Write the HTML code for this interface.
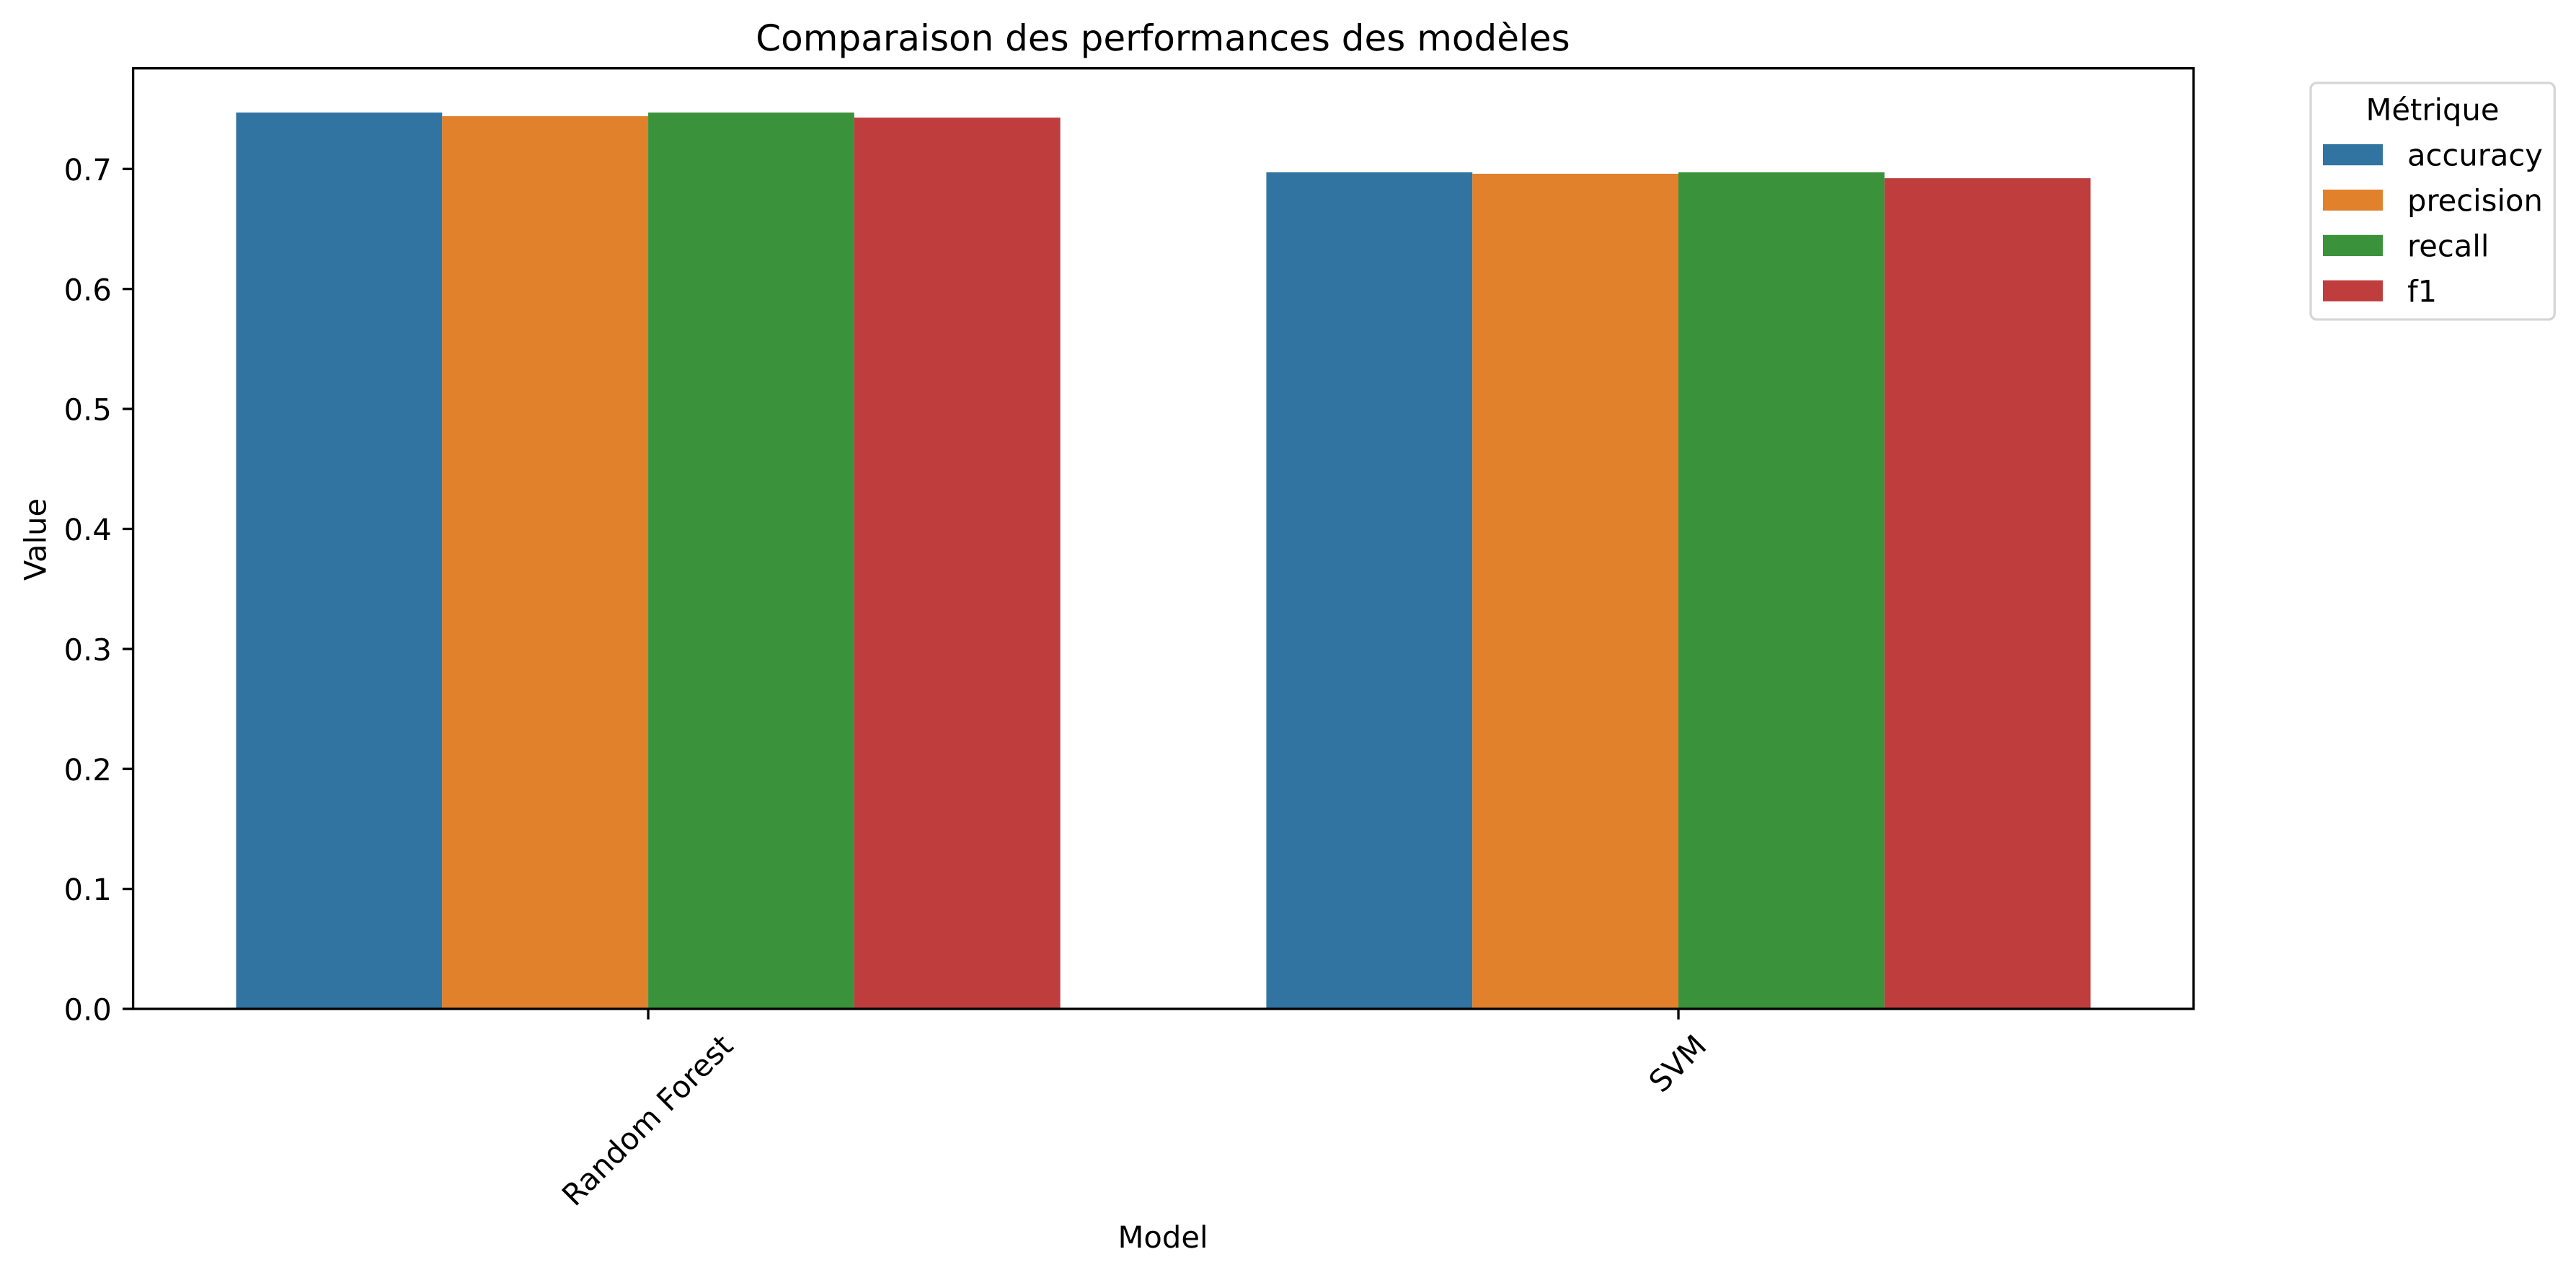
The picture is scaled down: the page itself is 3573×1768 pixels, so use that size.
<!DOCTYPE html>
<html lang="fr">
<head>
<meta charset="utf-8">
<title>Comparaison des performances des modèles</title>
<style>
html,body{margin:0;padding:0;background:#fff;width:3573px;height:1768px;overflow:hidden}
svg{position:absolute;left:0;top:0;display:block}
text{font-family:"DejaVu Sans","Liberation Sans",sans-serif;fill:#000;text-rendering:geometricPrecision}
</style>
</head>
<body>
<svg id="chart" xmlns="http://www.w3.org/2000/svg" width="3573" height="1768" viewBox="0 0 3573 1768">
  <rect x="0" y="0" width="3573" height="1768" fill="#ffffff"/>
  <g id="bars"></g>
  <g id="ticks"></g>
  <rect x="184.6" y="94.7" width="2857.9" height="1304.3" fill="none" stroke="#000" stroke-width="3.33"/>
  <text x="1613" y="70" font-size="50" text-anchor="middle">Comparaison des performances des modèles</text>
  <text x="1613" y="1730" font-size="41.67" text-anchor="middle">Model</text>
  <text transform="translate(63.3 748) rotate(-90)" font-size="41.67" text-anchor="middle">Value</text>
  <g id="legend">
    <rect x="3205" y="115" width="338.3" height="328" rx="8.3" ry="8.3" fill="#fff" stroke="#d6d6d6" stroke-width="3.33"/>
    <text x="3374" y="166.5" font-size="41.67" text-anchor="middle">Métrique</text>
  </g>
</svg>
<script>
const categories = ["Random Forest", "SVM"];
const metrics = ["accuracy", "precision", "recall", "f1"];
const accuracyValues = [0.747, 0.6972];
const precisionValues = [0.744, 0.696];
const recallValues = [0.747, 0.6972];
const f1Values = [0.7428, 0.6923];
const yTickLabels = ["0.0", "0.1", "0.2", "0.3", "0.4", "0.5", "0.6", "0.7"];

const seriesValues = [accuracyValues, precisionValues, recallValues, f1Values];
const seriesColors = ["#3274a1", "#e1812c", "#3a923a", "#c03d3e"];
const NS = "http://www.w3.org/2000/svg";
const plotLeft = 184.6, plotRight = 3042.5, plotTop = 94.7, plotBottom = 1399;
const yMax = 0.7839;
const tickLen = 14.6, tickPad = 14.6, fontSize = 41.67;

function xScale(pos) {
  return plotLeft + (pos + 0.5) / categories.length * (plotRight - plotLeft);
}
function yScale(v) {
  return plotBottom - (v / yMax) * (plotBottom - plotTop);
}
function make(tag) {
  return document.createElementNS(NS, tag);
}
function setAttrs(el, attrs) {
  for (const k in attrs) el.setAttribute(k, attrs[k]);
  return el;
}
const barsG = document.getElementById("bars");
const ticksG = document.getElementById("ticks");
const legendG = document.getElementById("legend");
const barWidth = 0.8 / metrics.length;

categories.forEach(function (cat, c) {
  metrics.forEach(function (metric, m) {
    const v = seriesValues[m][c];
    const x0 = xScale(c - 0.4 + m * barWidth);
    const x1 = xScale(c - 0.4 + (m + 1) * barWidth);
    const bar = make("rect");
    
    
    setAttrs(bar, {x: x0, y: yScale(v), width: x1 - x0, height: plotBottom - yScale(v), fill: seriesColors[m]});
    barsG.appendChild(bar);
  });

  const tx = xScale(c);
  const tick = make("line");
  
  
  setAttrs(tick, {x1: tx, x2: tx, y1: plotBottom, y2: plotBottom + tickLen, stroke: "#000", "stroke-width": 3.33});
  ticksG.appendChild(tick);

  const label = make("text");
  
  
  label.textContent = cat;
  setAttrs(label, {"font-size": fontSize, "text-anchor": "middle", x: 0, y: 0});
  ticksG.appendChild(label);
  // matplotlib places the rotated label so its bounding box is centred on the tick
  const textLen = label.getComputedTextLength();
  const half = (textLen + fontSize * 0.95) * Math.SQRT1_2 / 2;
  const cy = plotBottom + tickLen + tickPad + half;
  label.setAttribute("transform", "translate(" + (tx - 1.5) + " " + cy + ") rotate(-45) translate(0 " + (fontSize * 0.36) + ")");
});

yTickLabels.forEach(function (lab) {
  const ty = yScale(parseFloat(lab));
  const tick = make("line");
  
  
  setAttrs(tick, {x1: plotLeft - tickLen, x2: plotLeft, y1: ty, y2: ty, stroke: "#000", "stroke-width": 3.33});
  ticksG.appendChild(tick);

  const label = make("text");
  
  
  label.textContent = lab;
  setAttrs(label, {x: plotLeft - tickLen - tickPad - 0.5, y: ty + 15.6, "font-size": fontSize, "text-anchor": "end"});
  ticksG.appendChild(label);
});

metrics.forEach(function (metric, m) {
  const rowY = 200 + m * 62.9;
  const swatch = make("rect");
  
  
  setAttrs(swatch, {x: 3222, y: rowY, width: 83, height: 29.2, fill: seriesColors[m]});
  legendG.appendChild(swatch);

  const label = make("text");
  
  
  label.textContent = metric;
  setAttrs(label, {x: 3339, y: rowY + 29.6, "font-size": fontSize});
  legendG.appendChild(label);
});
</script>
</body>
</html>
